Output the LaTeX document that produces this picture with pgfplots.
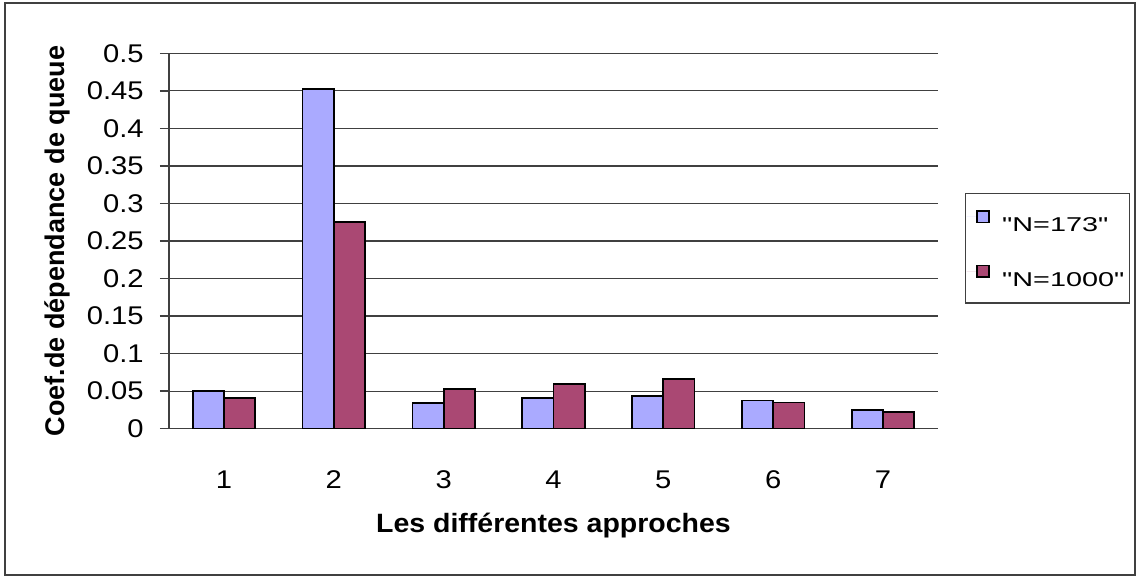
\documentclass[border=0pt]{standalone}
\usepackage{fontspec}
\setmainfont{Liberation Sans}
\newfontfamily\tickfont{Liberation Sans}[FakeStretch=1.14]
\newfontfamily\legfont{Liberation Sans}[FakeStretch=1.44]
\newfontfamily\xlabfont{Liberation Sans}[FakeStretch=1.075]
\usepackage{pgfplots}
\pgfplotsset{compat=1.18}
\definecolor{cblue}{HTML}{AAAAFF}
\definecolor{cred}{HTML}{AA4873}
\begin{document}
\begin{tikzpicture}
\useasboundingbox (0,0) rectangle (568pt,288pt);
\draw[line width=0.9pt, black!75] (2.35pt,0.6pt) rectangle (567.5pt,286.35pt);
\begin{axis}[
  at={(84.5pt,73.65pt)}, anchor=south west,
  scale only axis, width=384.5pt, height=187.7pt,
  xmin=0.5, xmax=7.5, ymin=0, ymax=0.5,
  ybar=0pt, bar width=15.6pt,
  axis x line*=bottom, axis y line*=left,
  axis line style={black!75, line width=0.7pt, -},
  ytick={0,0.05,0.1,0.15,0.2,0.25,0.3,0.35,0.4,0.45,0.5},
  yticklabels={0,0.05,0.1,0.15,0.2,0.25,0.3,0.35,0.4,0.45,0.5},
  ymajorgrids, major grid style={black!75, line width=0.65pt},
  y tick style={black!75, line width=0.7pt},
  major tick length=4.5pt, tick align=outside,
  y tick label style={font=\tickfont\fontsize{12.8}{14}\selectfont, anchor=east, xshift=-8pt, inner xsep=0pt},
  xtick={1,2,3,4,5,6,7},
  xticklabels={1,2,3,4,5,6,7},
  x tick style={draw=none},
  x tick label style={font=\tickfont\fontsize{12.8}{14}\selectfont, anchor=center, yshift=-21pt},
  extra x ticks={0.5,1.5,2.5,3.5,4.5,5.5,6.5,7.5},
  extra x tick labels={},
  extra x tick style={grid=none, major tick length=5pt, tick style={draw=black!75, line width=0.7pt}},
  xlabel={\xlabfont\bfseries Les différentes approches},
  xlabel style={font=\fontsize{13.25}{15}\selectfont, at={(axis description cs:0.5,-0.258)}, anchor=center},
  ylabel={\bfseries Coef.de dépendance de queue},
  ylabel style={font=\fontsize{13.5}{15}\selectfont, at={(axis description cs:-0.145,0.5)}, anchor=center},
  legend style={at={(axis description cs:1.035,0.628)}, anchor=north west,
    draw=black!75, line width=0.6pt, font=\legfont\fontsize{10}{11}\selectfont,
    inner xsep=0.5pt, inner ysep=8.3pt, row sep=16.55pt, column sep=4.3pt,
    nodes={inner ysep=0pt, text height=7.2pt, text depth=0pt}},
  legend cell align=left,
  legend image code/.code={\path[draw=none] (-5.35pt,4pt) -- (5.8pt,4pt);
    \draw[#1, line width=0.8pt, draw=black] (0pt,1pt) rectangle (5.8pt,6.8pt);},
]
\addplot[fill=cblue, draw=black, line width=0.9pt] coordinates {(1,0.050) (2,0.452) (3,0.0345) (4,0.0407) (5,0.0438) (6,0.0376) (7,0.0248)};
\addplot[fill=cred, draw=black, line width=0.9pt] coordinates {(1,0.041) (2,0.275) (3,0.0532) (4,0.0597) (5,0.0659) (6,0.035) (7,0.0221)};
\legend{"N=173", "N=1000"}
\end{axis}
\end{tikzpicture}
\end{document}
